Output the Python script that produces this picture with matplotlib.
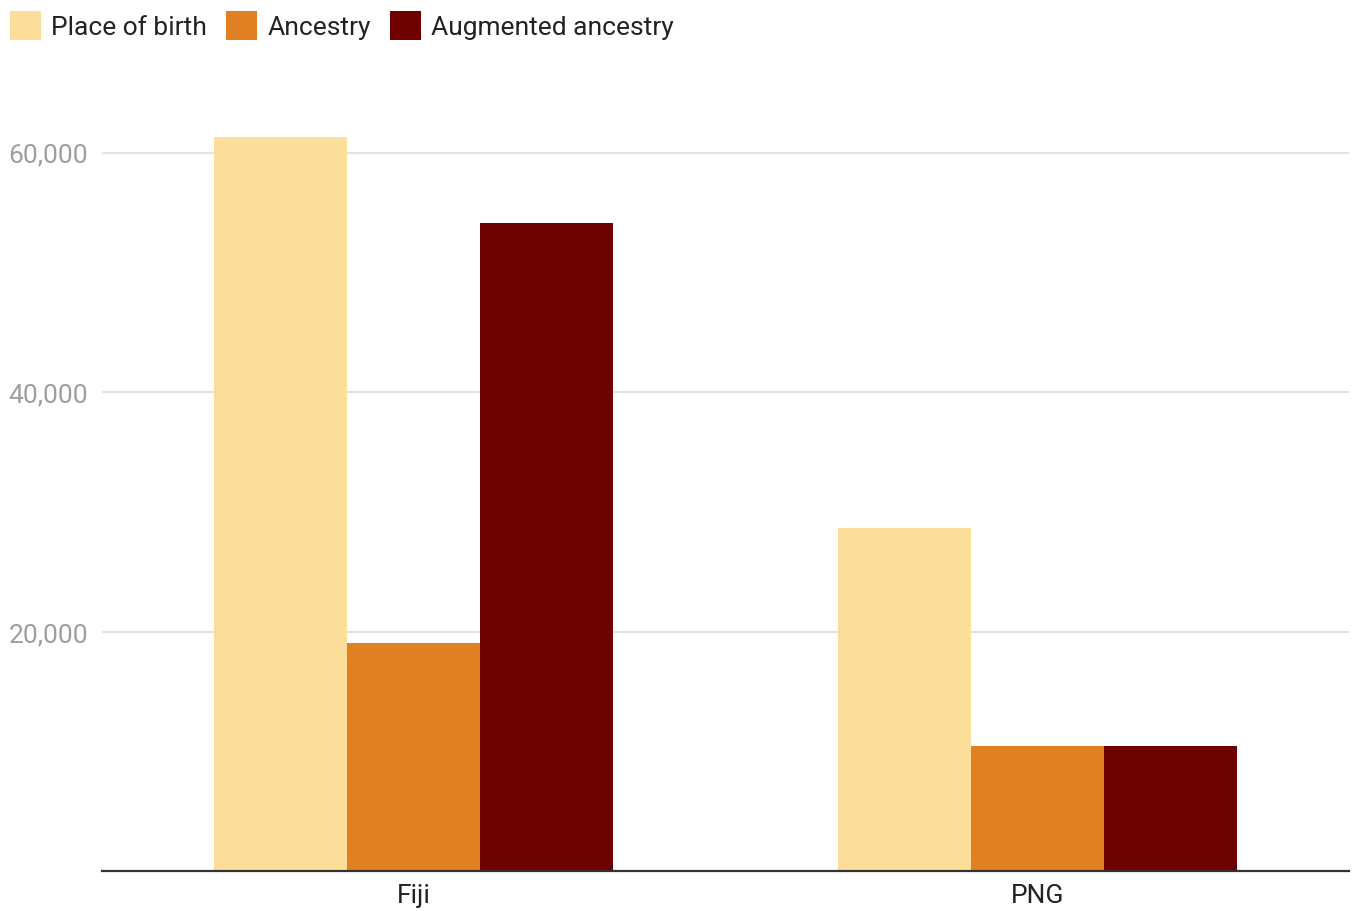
import matplotlib
matplotlib.use("Agg")
import matplotlib.pyplot as plt
import numpy as np
from matplotlib.ticker import FuncFormatter

categories = ["Fiji", "PNG"]
series_names = ["Place of birth", "Ancestry", "Augmented ancestry"]
place_of_birth = [61300, 28650]
ancestry = [19050, 10450]
augmented_ancestry = [54100, 10450]
yticks = [20000, 40000, 60000]
colors = ["#FDDE99", "#E08022", "#6E0000"]

plt.rcParams['font.family'] = ['Roboto', 'DejaVu Sans']

W, H = 1352, 912
fig = plt.figure(figsize=(W / 100, H / 100), dpi=100)
ax_left, ax_right, ax_bottom, ax_top = 102, 1349, 872, 100
ax = fig.add_axes([ax_left / W, (H - ax_bottom) / H, (ax_right - ax_left) / W, (ax_bottom - ax_top) / H])

x = np.arange(len(categories))
group = 0.64
bw = group / 3
for i, (name, vals) in enumerate(zip(series_names, [place_of_birth, ancestry, augmented_ancestry])):
    ax.bar(x + (i - 1) * bw, vals, width=bw, color=colors[i], label=name, zorder=3, linewidth=0)

ax.set_xlim(-0.5, 1.5)
ax.set_ylim(0, 20000 * (872 - 100) / 239.5)
ax.set_xticks(x)
ax.set_xticklabels(categories, fontsize=19, color="#222222")
ax.set_yticks(yticks)
ax.yaxis.set_major_formatter(FuncFormatter(lambda v, p: f"{int(v):,}"))
ax.tick_params(axis='y', length=0, labelsize=19, labelcolor="#9E9E9E", pad=10)
ax.tick_params(axis='x', length=0, pad=9)
ax.grid(axis='y', color="#E3E3E3", linewidth=1.5, zorder=0)
for s in ["top", "right", "left"]:
    ax.spines[s].set_visible(False)
ax.spines["bottom"].set_color("#333333")
ax.spines["bottom"].set_linewidth(1.6)
ax.spines["bottom"].set_zorder(4)

fig.legend(loc="upper left", bbox_to_anchor=(10 / W, 1 - 12 / H), ncol=3, frameon=False,
           fontsize=19, handlelength=1.18, handleheight=1.3, handletextpad=0.38,
           columnspacing=0.72, borderpad=0, borderaxespad=0, labelcolor="#222222")

fig.savefig("out.png", dpi=100)
